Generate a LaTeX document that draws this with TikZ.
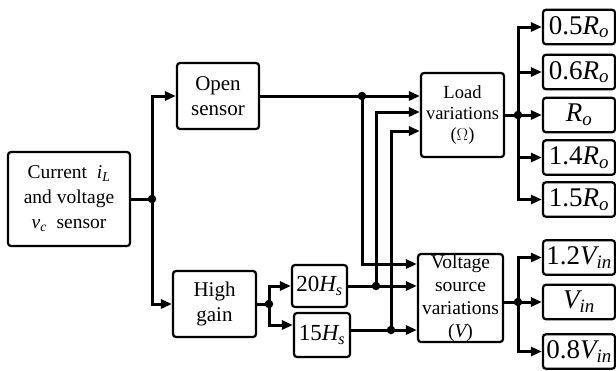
\documentclass[tikz,border=0pt]{standalone}
\usepackage{amsmath}
\usepackage{fontspec}
\setmainfont{Liberation Serif}
\usetikzlibrary{arrows.meta,calc}
\newcommand{\vi}[1]{\textit{#1}}
\begin{document}
\begin{tikzpicture}[x=1pt,y=-1pt,
  blk/.style={draw,line width=2.2pt,rounded corners=3pt,align=center,inner sep=0pt,fill=white},
  conn/.style={line width=3pt},
  arr/.style={line width=3pt,-{Triangle[length=11pt,width=9pt]}},
  dotc/.style={fill,circle,inner sep=0pt,minimum size=8.5pt}]
\useasboundingbox (0,0) rectangle (616,370);
% boxes
\node[blk,minimum width=122pt,minimum height=94pt,font=\fontsize{19.5}{25}\selectfont] (sensor) at (69,199)
  {Current\enspace$\vi{i}_{\vi{L}}$\\and voltage\\$\vi{v}_{\vi{c}}$\enspace sensor};
\node[blk,minimum width=82pt,minimum height=66pt,font=\fontsize{21}{25}\selectfont] (open) at (218,96) {Open\\sensor};
\node[blk,minimum width=83pt,minimum height=66pt,font=\fontsize{21}{25}\selectfont] (high) at (214.5,304) {High\\gain};
\node[blk,minimum width=55pt,minimum height=42pt,font=\fontsize{23}{25}\selectfont] (h20) at (319.5,286) {20$\vi{H}_{\vi{s}}$};
\node[blk,minimum width=56pt,minimum height=44pt,font=\fontsize{23}{25}\selectfont] (h15) at (322,335) {15$\vi{H}_{\vi{s}}$};
\node[blk,minimum width=83pt,minimum height=84pt,font=\fontsize{18.5}{21}\selectfont] (load) at (462.5,115) {Load\\variations\\($\Omega$)};
\node[blk,minimum width=85pt,minimum height=88pt,font=\fontsize{19.5}{23}\selectfont] (volt) at (460.5,298) {Voltage\\source\\variations\\($\vi{V}$)};
\tikzset{outb/.style={blk,minimum width=72pt,minimum height=34.5pt,font=\fontsize{27}{30}\selectfont}}
\node[outb] (r1) at (579,27) {0.5$\vi{R}_{\vi{o}}$};
\node[outb] (r2) at (579,72) {0.6$\vi{R}_{\vi{o}}$};
\node[outb] (r3) at (579,115) {$\vi{R}_{\vi{o}}$};
\node[outb] (r4) at (579,157.5) {1.4$\vi{R}_{\vi{o}}$};
\node[outb] (r5) at (579,199.5) {1.5$\vi{R}_{\vi{o}}$};
\node[outb] (v1) at (579,257.5) {1.2$\vi{V}_{\vi{in}}$};
\node[outb] (v2) at (579,302) {$\vi{V}_{\vi{in}}$};
\node[outb] (v3) at (579,351.5) {0.8$\vi{V}_{\vi{in}}$};
% junctions
\coordinate (j1) at (152,199);
\coordinate (j2) at (269,304);
\coordinate (j3) at (362,96);
\coordinate (j4) at (376,286);
\coordinate (j5) at (391,330);
\coordinate (j6) at (518,115);
\coordinate (j7) at (518,302);
% connectors
\draw[conn] (sensor.east) -- (j1);
\draw[arr] (j1) |- (open.west);
\draw[arr] (j1) |- (high.west);
\draw[conn] (high.east) -- (j2);
\draw[arr] (j2) |- (h20.west);
\draw[arr] (j2) |- ([yshift=10pt]h15.west);
\draw[arr] (open.east) -- (open.east -| load.west);
\draw[arr] (h20.east) -- (h20.east -| volt.west);
\draw[arr] ([yshift=5pt]h15.east) -- ([yshift=5pt]h15.east -| volt.west);
\draw[arr] (j3) |- ([yshift=34pt]volt.west);
\draw[arr] (j4) |- ([yshift=3pt]load.west);
\draw[arr] (j5) |- ([yshift=-16pt]load.west);
\draw[conn] (load.east) -- (j6);
\foreach \b in {r1,r2,r3,r4,r5} \draw[arr] (j6) |- (\b.west);
\draw[conn] (volt.east |- j7) -- (j7);
\foreach \b in {v1,v2,v3} \draw[arr] (j7) |- (\b.west);
\foreach \j in {j1,j2,j3,j4,j5,j6,j7} \node[dotc] at (\j) {};
\end{tikzpicture}
\end{document}
